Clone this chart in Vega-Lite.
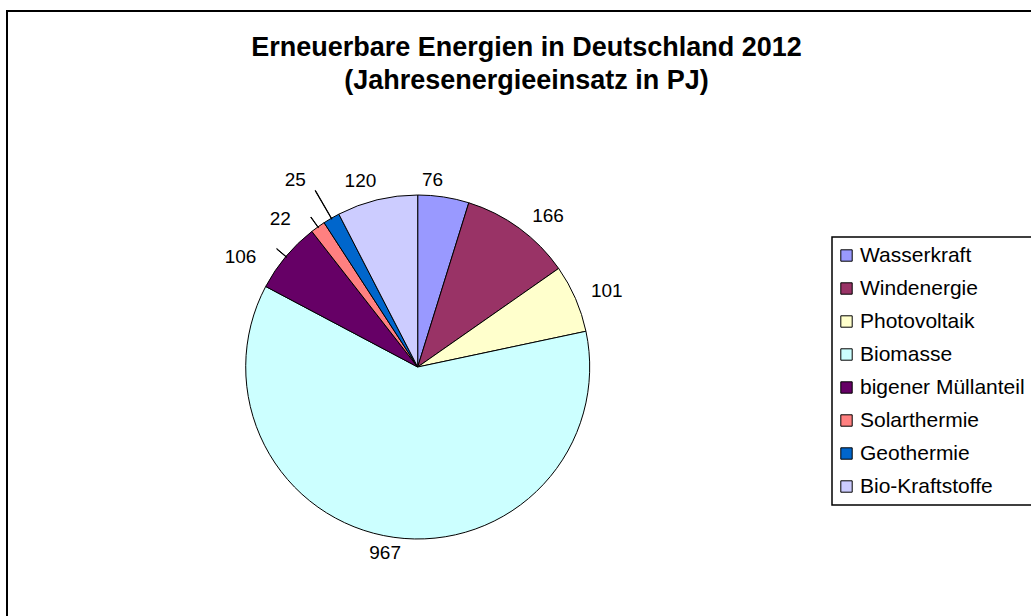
{
  "$schema": "https://vega.github.io/schema/vega-lite/v6.json",
  "autosize": "none",
  "padding": {"left": 7, "top": 11, "right": -5, "bottom": -5},
  "width": 1029,
  "height": 610,
  "background": "white",
  "view": {"stroke": "black", "strokeWidth": 2, "fill": "white"},
  "config": {
    "view": {"stroke": "black", "strokeWidth": 2},
    "font": "Liberation Sans",
    "text": {"fontSize": 19, "font": "Liberation Sans", "color": "black", "align": "center", "baseline": "middle"}
  },
  "title": {
    "text": ["Erneuerbare Energien in Deutschland 2012", "(Jahresenergieeinsatz in PJ)"],
    "font": "Liberation Sans",
    "fontWeight": "bold",
    "fontSize": 27,
    "lineHeight": 33,
    "color": "black",
    "anchor": "middle",
    "frame": "group",
    "baseline": "top",
    "dx": 5,
    "offset": -84
  },
  "data": {
    "values": [
      {"name": "Wasserkraft", "value": 76, "order": 1},
      {"name": "Windenergie", "value": 166, "order": 2},
      {"name": "Photovoltaik", "value": 101, "order": 3},
      {"name": "Biomasse", "value": 967, "order": 4},
      {"name": "bigener Müllanteil", "value": 106, "order": 5},
      {"name": "Solarthermie", "value": 22, "order": 6},
      {"name": "Geothermie", "value": 25, "order": 7},
      {"name": "Bio-Kraftstoffe", "value": 120, "order": 8}
    ]
  },
  "transform": [
    {"stack": "value", "groupby": [], "sort": [{"field": "order"}], "as": ["v0", "v1"]},
    {"calculate": "(datum.v0 + datum.v1) / 2", "as": "mid"},
    {"calculate": "datum.mid - 0.3", "as": "lo"},
    {"calculate": "datum.mid + 0.3", "as": "hi"}
  ],
  "layer": [
    {
      "mark": {"type": "arc", "radius": 172, "x": 410.7, "y": 356, "stroke": "black", "strokeWidth": 1},
      "encoding": {
        "theta": {"field": "v0", "type": "quantitative", "stack": null, "scale": {"domain": [0, 1583]}},
        "theta2": {"field": "v1"},
        "color": {
          "field": "name",
          "type": "nominal",
          "scale": {
            "domain": ["Wasserkraft", "Windenergie", "Photovoltaik", "Biomasse", "bigener Müllanteil", "Solarthermie", "Geothermie", "Bio-Kraftstoffe"],
            "range": ["#9999FF", "#993366", "#FFFFCC", "#CCFFFF", "#660066", "#FF8080", "#0066CC", "#CCCCFF"]
          },
          "legend": {
            "title": null,
            "orient": "none",
            "legendX": 825,
            "legendY": 226,
            "direction": "vertical",
            "fillColor": "white",
            "strokeColor": "black",
            "padding": 8,
            "symbolType": "square",
            "symbolSize": 130,
            "symbolOffset": -4,
            "symbolStrokeColor": "black",
            "symbolStrokeWidth": 1,
            "symbolOpacity": 1,
            "labelFont": "Liberation Sans",
            "labelFontSize": 21,
            "labelColor": "black",
            "labelOffset": 3,
            "labelLimit": 400,
            "rowPadding": 11,
            "encode": {"legend": {"update": {"strokeWidth": {"value": 1.5}}}}
          }
        },
        "order": {"field": "order", "type": "quantitative"}
      }
    },
    {
      "transform": [{"filter": "datum.name == 'Geothermie'"}],
      "mark": {"type": "arc", "radius": 204, "radius2": 171, "x": 410.7, "y": 356, "stroke": "black", "strokeWidth": 1, "fill": "black"},
      "encoding": {
        "theta": {"field": "lo", "type": "quantitative", "stack": null},
        "theta2": {"field": "hi"}
      }
    },
    {
      "transform": [{"filter": "datum.name == 'Solarthermie' || datum.name == 'bigener Müllanteil'"}],
      "mark": {"type": "arc", "radius": 184, "radius2": 171, "x": 410.7, "y": 356, "stroke": "black", "strokeWidth": 1, "fill": "black"},
      "encoding": {
        "theta": {"field": "lo", "type": "quantitative", "stack": null},
        "theta2": {"field": "hi"}
      }
    },
    {
      "transform": [{"filter": "datum.name == 'Wasserkraft'"}],
      "mark": {"type": "text", "radius": 192, "x": 410.7, "y": 356, "dx": -14, "dy": 3},
      "encoding": {"theta": {"field": "mid", "type": "quantitative", "stack": null}, "text": {"field": "value", "type": "quantitative"}}
    },
    {
      "transform": [{"filter": "datum.name == 'Windenergie'"}],
      "mark": {"type": "text", "radius": 192, "x": 410.7, "y": 356, "dx": 17, "dy": 4},
      "encoding": {"theta": {"field": "mid", "type": "quantitative", "stack": null}, "text": {"field": "value", "type": "quantitative"}}
    },
    {
      "transform": [{"filter": "datum.name == 'Photovoltaik'"}],
      "mark": {"type": "text", "radius": 192, "x": 410.7, "y": 356, "dx": 13, "dy": 1},
      "encoding": {"theta": {"field": "mid", "type": "quantitative", "stack": null}, "text": {"field": "value", "type": "quantitative"}}
    },
    {
      "transform": [{"filter": "datum.name == 'Biomasse'"}],
      "mark": {"type": "text", "radius": 192, "x": 410.7, "y": 356, "dx": -6, "dy": -4},
      "encoding": {"theta": {"field": "mid", "type": "quantitative", "stack": null}, "text": {"field": "value", "type": "quantitative"}}
    },
    {
      "transform": [{"filter": "datum.name == 'bigener Müllanteil'"}],
      "mark": {"type": "text", "radius": 192, "x": 410.7, "y": 356, "dx": -30, "dy": 13},
      "encoding": {"theta": {"field": "mid", "type": "quantitative", "stack": null}, "text": {"field": "value", "type": "quantitative"}}
    },
    {
      "transform": [{"filter": "datum.name == 'Solarthermie'"}],
      "mark": {"type": "text", "radius": 192, "x": 410.7, "y": 356, "dx": -26, "dy": 8},
      "encoding": {"theta": {"field": "mid", "type": "quantitative", "stack": null}, "text": {"field": "value", "type": "quantitative"}}
    },
    {
      "transform": [{"filter": "datum.name == 'Geothermie'"}],
      "mark": {"type": "text", "radius": 192, "x": 410.7, "y": 356, "dx": -26, "dy": -21},
      "encoding": {"theta": {"field": "mid", "type": "quantitative", "stack": null}, "text": {"field": "value", "type": "quantitative"}}
    },
    {
      "transform": [{"filter": "datum.name == 'Bio-Kraftstoffe'"}],
      "mark": {"type": "text", "radius": 192, "x": 410.7, "y": 356, "dx": -12, "dy": 1},
      "encoding": {"theta": {"field": "mid", "type": "quantitative", "stack": null}, "text": {"field": "value", "type": "quantitative"}}
    }
  ]
}
